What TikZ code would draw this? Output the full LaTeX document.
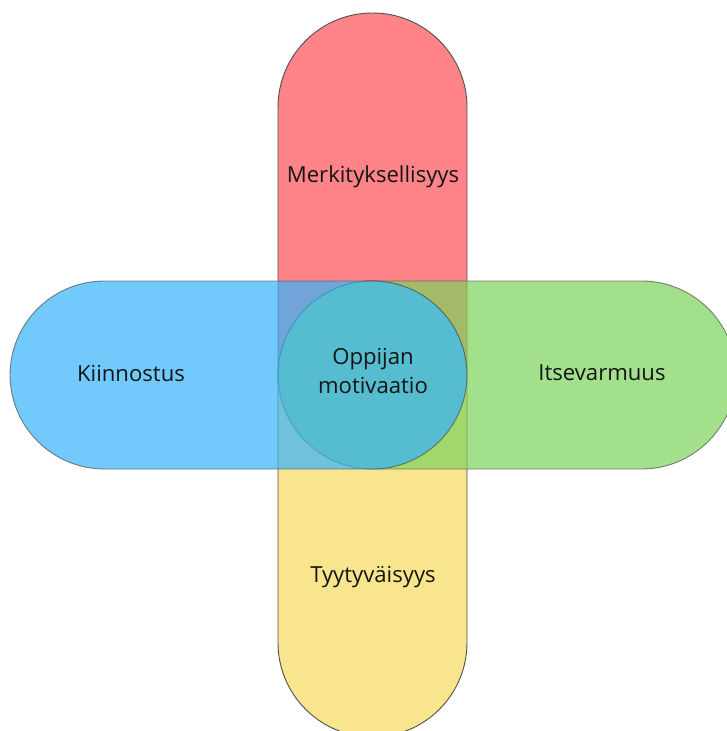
\documentclass[tikz,border=0pt]{standalone}
\usepackage{fontspec}
\setmainfont{Open Sans}
\definecolor{redf}{RGB}{255,132,137}
\definecolor{yelf}{RGB}{249,229,141}
\definecolor{bluef}{RGB}{54,178,251}
\definecolor{greenf}{RGB}{124,211,91}
\definecolor{edgec}{RGB}{80,80,80}
\definecolor{txt}{RGB}{20,20,20}
\begin{document}
\begin{tikzpicture}[x=1bp,y=-1bp,
  pill/.style={draw=edgec, line width=0.9bp, rounded corners=94.45bp},
  lbl/.style={font=\fontsize{22.2}{29}\selectfont, text=txt, align=center, inner sep=0pt}]
\useasboundingbox (0,0) rectangle (727,731);
\clip (0,0) rectangle (727,731);
\filldraw[pill, fill=redf] (278,13) rectangle (467,469);
\filldraw[pill, fill=yelf] (278,281) rectangle (467,737);
\filldraw[pill, fill=greenf, opacity=0.7] (278,281) rectangle (736,469);
\filldraw[pill, fill=bluef, opacity=0.7] (10,281) rectangle (467,469);
\node[lbl] (merk) at (373,177) {Merkityksellisyys};
\node[lbl] (kiin) at (131,373) {Kiinnostus};
\node[lbl] (itse) at (602,373) {Itsevarmuus};
\node[lbl] (tyyt) at (373,577) {Tyytyväisyys};
\node[lbl] (oppi) at (373,371) {Oppijan\\motivaatio};
\end{tikzpicture}
\end{document}
